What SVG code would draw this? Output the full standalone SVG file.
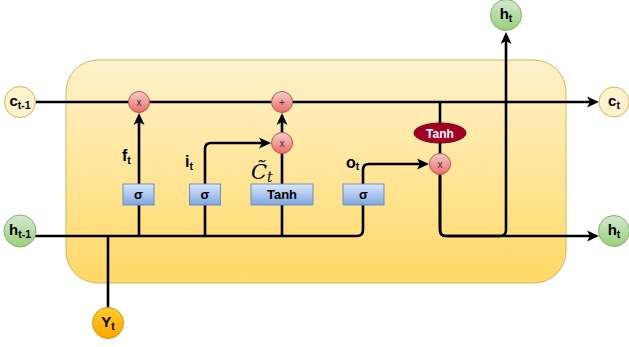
<svg xmlns="http://www.w3.org/2000/svg" width="629" height="347" viewBox="0 0 629 347">
<defs>
<linearGradient id="gBg" x1="0" y1="0" x2="0" y2="1"><stop offset="0" stop-color="#fff2cc"/><stop offset="1" stop-color="#ffd966"/></linearGradient>
<linearGradient id="gGreen" x1="0" y1="0" x2="0" y2="1"><stop offset="0" stop-color="#d5e8d4"/><stop offset="1" stop-color="#97d077"/></linearGradient>
<linearGradient id="gRed" x1="0" y1="0" x2="0" y2="1"><stop offset="0" stop-color="#f8cecc"/><stop offset="1" stop-color="#ea6b66"/></linearGradient>
<linearGradient id="gOrange" x1="0" y1="0" x2="0" y2="1"><stop offset="0" stop-color="#ffcd28"/><stop offset="1" stop-color="#ffa500"/></linearGradient>
<linearGradient id="gBlue" x1="0" y1="0" x2="0" y2="1"><stop offset="0" stop-color="#dae8fc"/><stop offset="1" stop-color="#7ea6e0"/></linearGradient>
<marker id="arr" viewBox="0 0 12 12" markerWidth="12" markerHeight="12" markerUnits="userSpaceOnUse" refX="4" refY="6" orient="auto"><path d="M0,0.5 L12,6 L0,11.5 L3,6 Z" fill="#000"/></marker>
</defs>
<style>
.ln{fill:none;stroke:#000;stroke-width:2.6}
.arr{marker-end:url(#arr)}
.yc{fill:#fff2cc;stroke:#d6b656;stroke-width:1}
.gc{fill:url(#gGreen);stroke:#82b366;stroke-width:1}
.rc{fill:url(#gRed);stroke:#b85450;stroke-width:1}
.oc{fill:url(#gOrange);stroke:#d79b00;stroke-width:1}
.bb{fill:url(#gBlue);stroke:#6c8ebf;stroke-width:1}
.t{font-family:"Liberation Sans",Arial,sans-serif;font-weight:bold;fill:#000}
.n{font-size:15px;text-anchor:middle}
.s{font-size:10.5px}
.op{font-family:"Liberation Sans",Arial,sans-serif;font-size:10px;text-anchor:middle;fill:#333}
.g{font-size:13px;text-anchor:middle}
.lb{font-size:16px}
</style>
<g id="cell"><rect x="66" y="60" width="500" height="223" rx="32" ry="32" fill="url(#gBg)" stroke="#d6b656" stroke-width="1"/></g>
<g id="connectors">
<path class="ln arr" d="M35,102 H591"/>
<path class="ln" d="M35,236 H357 Q363,236 363,230 V205"/>
<path class="ln arr" d="M363,184 V170 Q363,164 369,164 H421"/>
<path class="ln arr" d="M139,184 V121"/>
<path class="ln arr" d="M205,184 V149 Q205,143 211,143 H263"/>
<path class="ln" d="M282,184 V153"/>
<path class="ln arr" d="M282,133 V121"/>
<path class="ln" d="M139,236 V205 M205,236 V205 M282,236 V205"/>
<path class="ln" d="M108,308 V236"/>
<path class="ln" d="M440,102 V123 M440,143 V154"/>
<path class="ln arr" d="M440,174 V230 Q440,236 446,236 H591"/>
<path class="ln arr" d="M440,174 V230 Q440,236 446,236 H500 Q506,236 506,230 V40"/>
</g>
<g id="c_prev"><circle class="yc" cx="20" cy="102" r="15.5"/><text class="t n" x="20" y="106">c<tspan class="s" dy="3">t-1</tspan></text></g>
<g id="h_prev"><circle class="gc" cx="20" cy="231" r="16"/><text class="t n" x="20" y="235">h<tspan class="s" dy="3">t-1</tspan></text></g>
<g id="y_t"><circle class="oc" cx="108" cy="323" r="15.5"/><text class="t n" x="108" y="327">Y<tspan class="s" dy="3">t</tspan></text></g>
<g id="c_t"><circle class="yc" cx="614" cy="102" r="15"/><text class="t n" x="614" y="106">c<tspan class="s" dy="3">t</tspan></text></g>
<g id="h_t_out"><circle class="gc" cx="614" cy="231" r="15.5"/><text class="t n" x="614" y="235">h<tspan class="s" dy="3">t</tspan></text></g>
<g id="h_t_up"><circle class="gc" cx="506" cy="15" r="15.5"/><text class="t n" x="506" y="19">h<tspan class="s" dy="3">t</tspan></text></g>
<g id="mul_f"><circle class="rc" cx="139" cy="102" r="10.5"/><text class="op" x="139" y="105.5">x</text></g>
<g id="add_c"><circle class="rc" cx="282" cy="102" r="10.5"/><text class="op" x="282" y="105.5">+</text></g>
<g id="mul_i"><circle class="rc" cx="282" cy="143" r="10.5"/><text class="op" x="282" y="146.5">x</text></g>
<g id="mul_o"><circle class="rc" cx="440" cy="164" r="10.5"/><text class="op" x="440" y="167.5">x</text></g>
<g id="sig_f"><rect class="bb" x="123" y="184" width="31" height="21"/><text class="t g" x="138.5" y="199">σ</text></g>
<g id="sig_i"><rect class="bb" x="189.5" y="184" width="31" height="21"/><text class="t g" x="205" y="199">σ</text></g>
<g id="tanh_c"><rect class="bb" x="251" y="184" width="62" height="21"/><text class="t g" x="282" y="199">Tanh</text></g>
<g id="sig_o"><rect class="bb" x="343" y="184" width="41" height="21"/><text class="t g" x="363.5" y="199">σ</text></g>
<g id="tanh_h"><ellipse cx="440" cy="133" rx="26" ry="10" fill="#a20025" stroke="#6f0000" stroke-width="1"/><text class="t" x="440" y="137.5" font-size="12" text-anchor="middle" style="fill:#fff">Tanh</text></g>
<g id="labels">
<text class="t lb" x="122" y="161">f<tspan class="s" dy="3">t</tspan></text>
<text class="t lb" x="185" y="167">i<tspan class="s" dy="3">t</tspan></text>
<text x="251" y="179" font-family="'DejaVu Serif','Liberation Serif',serif" font-style="italic" font-size="21">C̃<tspan font-size="14" dy="3">t</tspan></text>
<text class="t lb" x="346" y="168">o<tspan class="s" dy="2">t</tspan></text>
</g>
</svg>
